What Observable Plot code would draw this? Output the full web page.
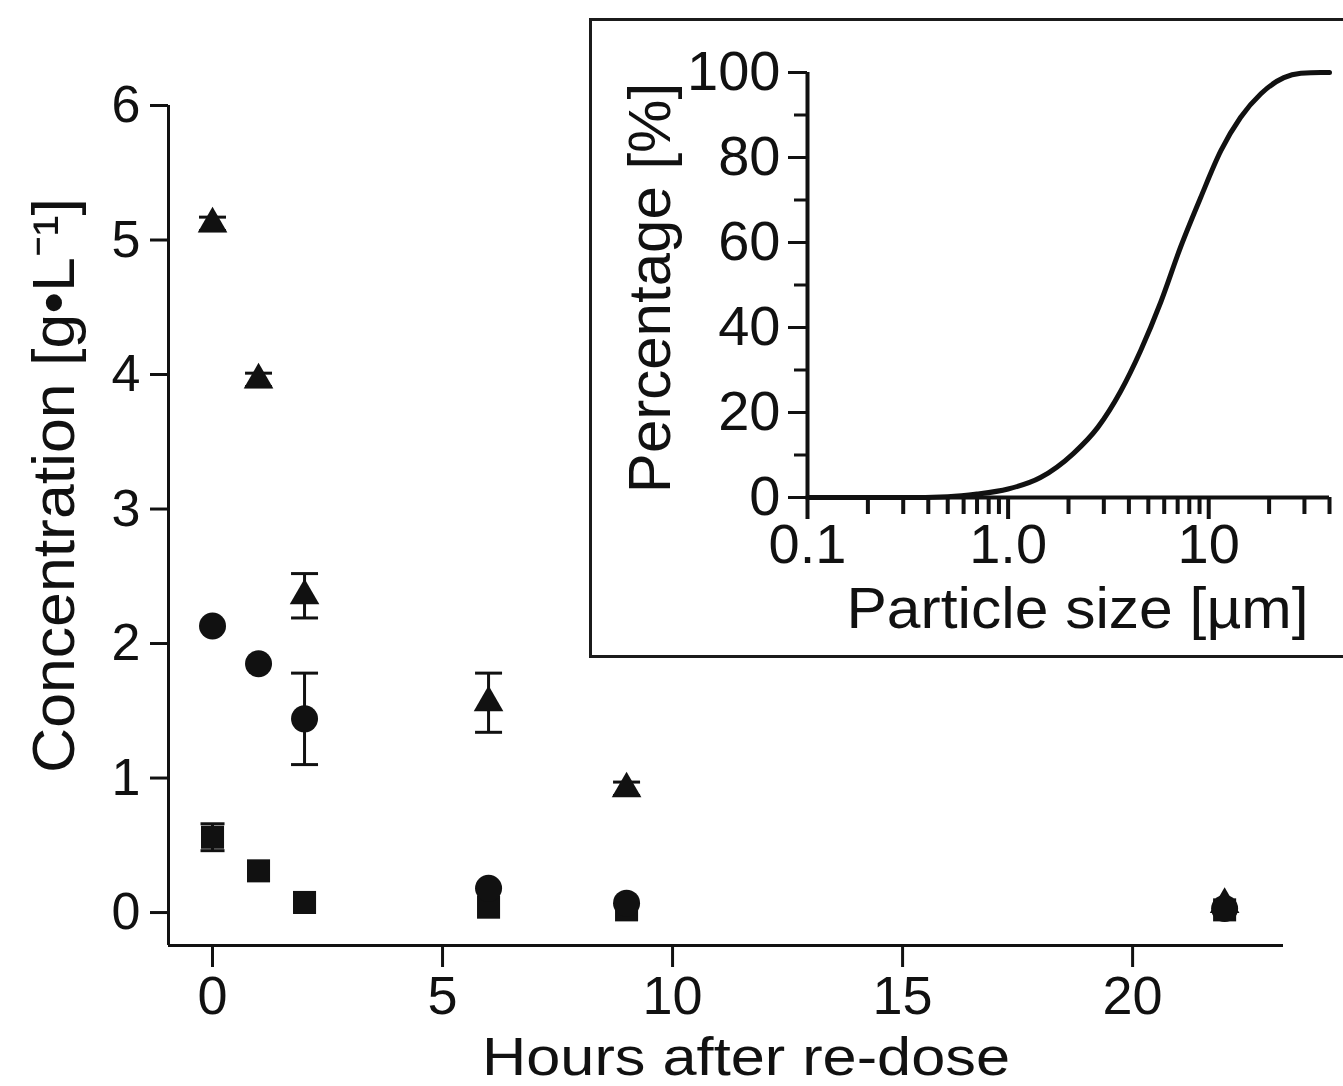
<!DOCTYPE html>
<html>
<head>
<meta charset="utf-8">
<script src="https://cdn.jsdelivr.net/npm/d3@7"></script>
<script src="https://cdn.jsdelivr.net/npm/@observablehq/plot@0.6"></script>
<style>
html, body { margin: 0; padding: 0; background: #fff; overflow: hidden; width: 1343px; height: 1086px; }
#main { position: absolute; left: 0; top: 0; }
#inset { position: absolute; left: 589px; top: 18px; width: 800px; height: 634px; border: 3px solid #1b1b1b; background: #fff; }
#inset svg { position: absolute; left: 0; top: 0; }
</style>
</head>
<body>
<div id="main"></div>
<div id="inset"></div>
<script>
// ---------- main chart data ----------
const hours = [0, 1, 2, 6, 9, 22];
const triangleMean = [5.12, 3.96, 2.355, 1.56, 0.92, 0.06];
const triangleErr  = [0.05, 0.05, 0.165, 0.22, 0.05, 0];
const circleMean   = [2.13, 1.85, 1.44, 0.18, 0.07, 0.03];
const circleErr    = [0, 0, 0.34, 0, 0, 0];
const squareMean   = [0.56, 0.31, 0.075, 0.04, 0.02, 0.02];
const squareErr    = [0.1, 0, 0, 0, 0, 0];

const xTicks = [0, 5, 10, 15, 20];
const yTicks = [0, 1, 2, 3, 4, 5, 6];
const xDomain = [-0.957, 23.28];
const yDomain = [-0.245, 6];
const xTitle = "Hours after re-dose";
const yTitle = "Concentration [g•L⁻¹]";

// ---------- inset data ----------
const particleSize = [0.1, 0.3, 0.5, 0.7, 1.0, 1.45, 2.12, 2.8, 3.64, 4.58, 5.77, 7.25, 9.12, 11.5, 14.4, 18.2, 23.7, 28.8, 36.2, 40];
const cumulativePct = [0, 0, 0.2, 0.8, 2, 4.7, 10.4, 16.5, 25, 34.6, 46, 59, 70.6, 81.6, 89.4, 95, 98.8, 99.8, 100, 100];
const insetXDomain = [0.1, 40];
const insetYDomain = [0, 100];
const insetXTicks = [0.1, 1, 10];
const insetXTickLabels = ["0.1", "1.0", "10"];
const insetXMinor = [0.2, 0.3, 0.4, 0.5, 0.6, 0.7, 0.8, 0.9, 2, 3, 4, 5, 6, 7, 8, 9, 20, 30, 40];
const insetYTicks = [0, 20, 40, 60, 80, 100];
const insetYMinor = [10, 30, 50, 70, 90];
const insetXTitle = "Particle size [µm]";
const insetYTitle = "Percentage [%]";

// ---------- build ----------
const ink = "#111";
const fontFamily = "'Liberation Sans', Arial, sans-serif";

function seriesRows(mean, err) {
  return hours.map((h, i) => ({hour: h, value: mean[i], err: err[i]}));
}
const triRows = seriesRows(triangleMean, triangleErr);
const cirRows = seriesRows(circleMean, circleErr);
const sqRows = seriesRows(squareMean, squareErr);
const bigErr = [...triRows, ...cirRows].filter(d => d.err > 0);
const smallErr = sqRows.filter(d => d.err > 0);
const errRows = [...bigErr, ...smallErr];

const capSymbol = {
  draw(context, size) {
    const w = Math.sqrt(size / Math.PI);
    context.moveTo(-w, 0);
    context.lineTo(w, 0);
  }
};

function caps(rows, r) {
  return [
    Plot.dot(rows, {x: "hour", y: d => d.value - d.err, symbol: capSymbol, r, stroke: ink, strokeWidth: 3}),
    Plot.dot(rows, {x: "hour", y: d => d.value + d.err, symbol: capSymbol, r, stroke: ink, strokeWidth: 3})
  ];
}

function stretchText(svg, content, length) {
  d3.select(svg).selectAll("text")
    .filter(function () { return this.textContent === content; })
    .attr("textLength", length)
    .attr("lengthAdjust", "spacingAndGlyphs");
}

const main = Plot.plot({
  width: 1343,
  height: 1086,
  marginLeft: 168,
  marginRight: 60,
  marginTop: 105,
  marginBottom: 141,
  style: {fontFamily, fontSize: "54px", color: ink, background: "transparent", overflow: "visible"},
  x: {domain: xDomain},
  y: {domain: yDomain},
  marks: [
    Plot.ruleX([xDomain[0]], {y1: yDomain[0], y2: yDomain[1], strokeWidth: 3, stroke: ink}),
    Plot.ruleY([yDomain[0]], {x1: xDomain[0], x2: xDomain[1], strokeWidth: 3, stroke: ink}),
    Plot.axisY({ticks: yTicks, tickSize: 18, tickPadding: 10, strokeWidth: 3, label: null, fontSize: 52, tickFormat: d3.format("d")}),
    Plot.axisX({ticks: xTicks, tickSize: 22, tickPadding: 8, strokeWidth: 3, label: null, fontSize: 54, tickFormat: d3.format("d")}),
    Plot.ruleX(errRows, {x: "hour", y1: d => d.value - d.err, y2: d => d.value + d.err, strokeWidth: 3, stroke: ink}),
    ...caps(bigErr, 13.5),
    ...caps(smallErr, 12),
    Plot.dot(sqRows, {x: "hour", y: "value", symbol: "square", r: 13, fill: ink, stroke: "none"}),
    Plot.dot(cirRows, {x: "hour", y: "value", symbol: "circle", r: 13.5, fill: ink, stroke: "none"}),
    Plot.dot(triRows, {x: "hour", y: "value", symbol: "triangle", r: 11, fill: ink, stroke: "none"}),
    Plot.text([xTitle], {text: d => d, frameAnchor: "bottom", textAnchor: "middle", dx: 20, dy: 112, lineAnchor: "middle", fontSize: 54, fill: ink}),
    Plot.text([yTitle], {text: d => d, frameAnchor: "left", textAnchor: "middle", rotate: -90, dx: -114, dy: -40, lineAnchor: "middle", fontSize: 60, fill: ink})
  ]
});
document.getElementById("main").appendChild(main);
stretchText(main, xTitle, 528);
stretchText(main, yTitle, 575);

const inset = Plot.plot({
  width: 751,
  height: 634,
  marginLeft: 215,
  marginRight: 14,
  marginTop: 51,
  marginBottom: 158,
  style: {fontFamily, fontSize: "56px", color: ink, background: "transparent", overflow: "visible"},
  x: {type: "log", domain: insetXDomain},
  y: {domain: insetYDomain},
  marks: [
    Plot.ruleX([insetXDomain[0]], {y1: insetYDomain[0], y2: insetYDomain[1], strokeWidth: 4, stroke: ink}),
    Plot.ruleY([insetYDomain[0]], {x1: insetXDomain[0], x2: insetXDomain[1], strokeWidth: 4, stroke: ink}),
    Plot.axisY({ticks: insetYTicks, tickSize: 19, tickPadding: 8, strokeWidth: 3, label: null, tickFormat: d3.format("d")}),
    Plot.axisY({ticks: insetYMinor, tickSize: 13, strokeWidth: 3, label: null, fill: "none"}),
    Plot.axisX({ticks: insetXTicks, tickSize: 22, tickPadding: 4, strokeWidth: 4, label: null,
      tickFormat: d => insetXTickLabels[insetXTicks.indexOf(d)]}),
    Plot.axisX({ticks: insetXMinor, tickSize: 17, strokeWidth: 4, label: null, fill: "none"}),
    Plot.line(particleSize.map((s, i) => ({size: s, pct: cumulativePct[i]})), {x: "size", y: "pct", curve: "monotone-x", stroke: ink, strokeWidth: 5}),
    Plot.text([insetXTitle], {text: d => d, frameAnchor: "bottom", textAnchor: "middle", dx: 9, dy: 112, lineAnchor: "middle", fontSize: 58, fill: ink}),
    Plot.text([insetYTitle], {text: d => d, frameAnchor: "left", textAnchor: "middle", rotate: -90, dx: -157, dy: 3, lineAnchor: "middle", fontSize: 60, fill: ink})
  ]
});
document.getElementById("inset").appendChild(inset);
stretchText(inset, insetXTitle, 462);
</script>
</body>
</html>
